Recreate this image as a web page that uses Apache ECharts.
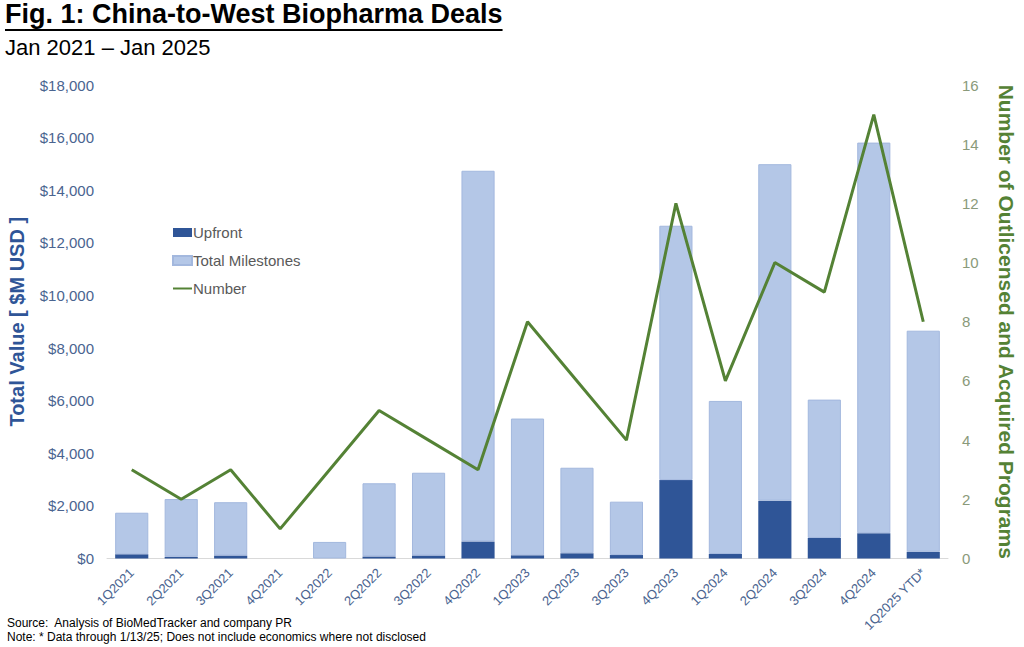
<!DOCTYPE html>
<html>
<head>
<meta charset="utf-8">
<script src="https://cdn.jsdelivr.net/npm/echarts@6/dist/echarts.min.js"></script>
<style>
html,body{margin:0;padding:0;background:#fff;}
#chart{width:1024px;height:647px;}
</style>
</head>
<body>
<div id="chart"></div>
<script>
const categories = ['1Q2021','2Q2021','3Q2021','4Q2021','1Q2022','2Q2022','3Q2022','4Q2022','1Q2023','2Q2023','3Q2023','4Q2023','1Q2024','2Q2024','3Q2024','4Q2024','1Q2025 YTD*'];
const upfront = [160, 70, 110, 0, 0, 80, 110, 650, 120, 200, 130, 2980, 170, 2200, 780, 960, 260];
const milestones = [1580, 2190, 2030, 0, 630, 2780, 3150, 14090, 5200, 3250, 2030, 9670, 5820, 12790, 5260, 14850, 8400];
const numberPrograms = [3, 2, 3, 1, 3, 5, 4, 3, 8, 6, 4, 12, 6, 10, 9, 15, 8];
const leftTicks = [0, 2000, 4000, 6000, 8000, 10000, 12000, 14000, 16000, 18000];
const rightTicks = [0, 2, 4, 6, 8, 10, 12, 14, 16];

const FONT = '"Liberation Sans", Arial, sans-serif';
const titleText = 'Fig. 1: China-to-West Biopharma Deals';
const c = document.createElement('canvas').getContext('2d');
c.font = 'bold 27px "Liberation Sans", Arial, sans-serif';
const titleW = c.measureText(titleText).width;
const noZero = arr => arr.map(v => (v === 0 ? '-' : v));

const chart = echarts.init(document.getElementById('chart'), null, {renderer: 'svg'});
chart.setOption({
  animation: false,
  textStyle: {fontFamily: FONT},
  title: [
    {text: titleText, left: 5, top: 0, padding: 0, textStyle: {fontFamily: FONT, fontWeight: 'bold', fontSize: 27, color: '#000'}},
    {text: 'Jan 2021 \u2013 Jan 2025', left: 5, top: 36, padding: 0, textStyle: {fontFamily: FONT, fontWeight: 'normal', fontSize: 22, color: '#000'}},
    {text: 'Source:  Analysis of BioMedTracker and company PR', left: 7, top: 617, padding: 0, textStyle: {fontFamily: FONT, fontWeight: 'normal', fontSize: 12, color: '#000'}},
    {text: 'Note: * Data through 1/13/25; Does not include economics where not disclosed', left: 7, top: 631, padding: 0, textStyle: {fontFamily: FONT, fontWeight: 'normal', fontSize: 12, color: '#000'}}
  ],
  graphic: [
    {type: 'line', shape: {x1: 5, y1: 30, x2: 5 + titleW, y2: 30}, style: {stroke: '#000', lineWidth: 2}}
  ],
  legend: {
    orient: 'vertical', left: 172, top: 225, itemGap: 13, itemWidth: 19, itemHeight: 9, padding: 0,
    textStyle: {fontFamily: FONT, fontSize: 15, color: '#595959', padding: [0,0,0,-4]},
    data: [
      {name: 'Upfront', icon: 'rect'},
      {name: 'Total Milestones', icon: 'rect'},
      {name: 'Number', itemStyle: {color: 'transparent', borderWidth: 0, opacity: 0}}
    ]
  },
  grid: {left: 107, right: 76, top: 85, bottom: 88.5, containLabel: false, outerBoundsMode: 'none'},
  xAxis: {
    type: 'category', data: categories,
    axisLine: {lineStyle: {color: '#d9d9d9'}},
    axisTick: {show: false},
    axisLabel: {rotate: 45, interval: 0, color: '#4A6490', fontSize: 13, fontFamily: FONT, margin: 12}
  },
  yAxis: [
    {
      type: 'value', min: 0, max: 18000, interval: 2000,
      name: 'Total Value [ $M USD ]', nameLocation: 'middle', nameRotate: 90, nameGap: 80,
      nameTextStyle: {fontFamily: FONT, fontWeight: 'bold', fontSize: 20, color: '#2F5597'},
      axisLine: {show: false}, axisTick: {show: false}, splitLine: {show: false},
      axisLabel: {color: '#4A6490', fontSize: 15, fontFamily: FONT, margin: 13,
        formatter: v => '$' + v.toLocaleString('en-US')}
    },
    {
      type: 'value', min: 0, max: 16, interval: 2,
      name: 'Number of Outlicensed and Acquired Programs', nameLocation: 'middle', nameRotate: -90, nameGap: 48,
      nameTextStyle: {fontFamily: FONT, fontWeight: 'bold', fontSize: 21, color: '#548235'},
      axisLine: {show: false}, axisTick: {show: false}, splitLine: {show: false},
      axisLabel: {color: '#8A9A7A', fontSize: 15, fontFamily: FONT, margin: 14}
    }
  ],
  series: [
    {name: 'Upfront', type: 'bar', stack: 'v', data: noZero(upfront), barCategoryGap: '33%',
     itemStyle: {color: '#2F5597'}},
    {name: 'Total Milestones', type: 'bar', stack: 'v', data: noZero(milestones),
     itemStyle: {color: '#B4C7E7', borderColor: '#A3B8DE', borderWidth: 1}},
    {name: 'Number', type: 'line', yAxisIndex: 1, data: numberPrograms, symbol: 'none',
     lineStyle: {color: '#548235', width: 3}, itemStyle: {color: '#548235'}}
  ]
});
</script>
</body>
</html>
